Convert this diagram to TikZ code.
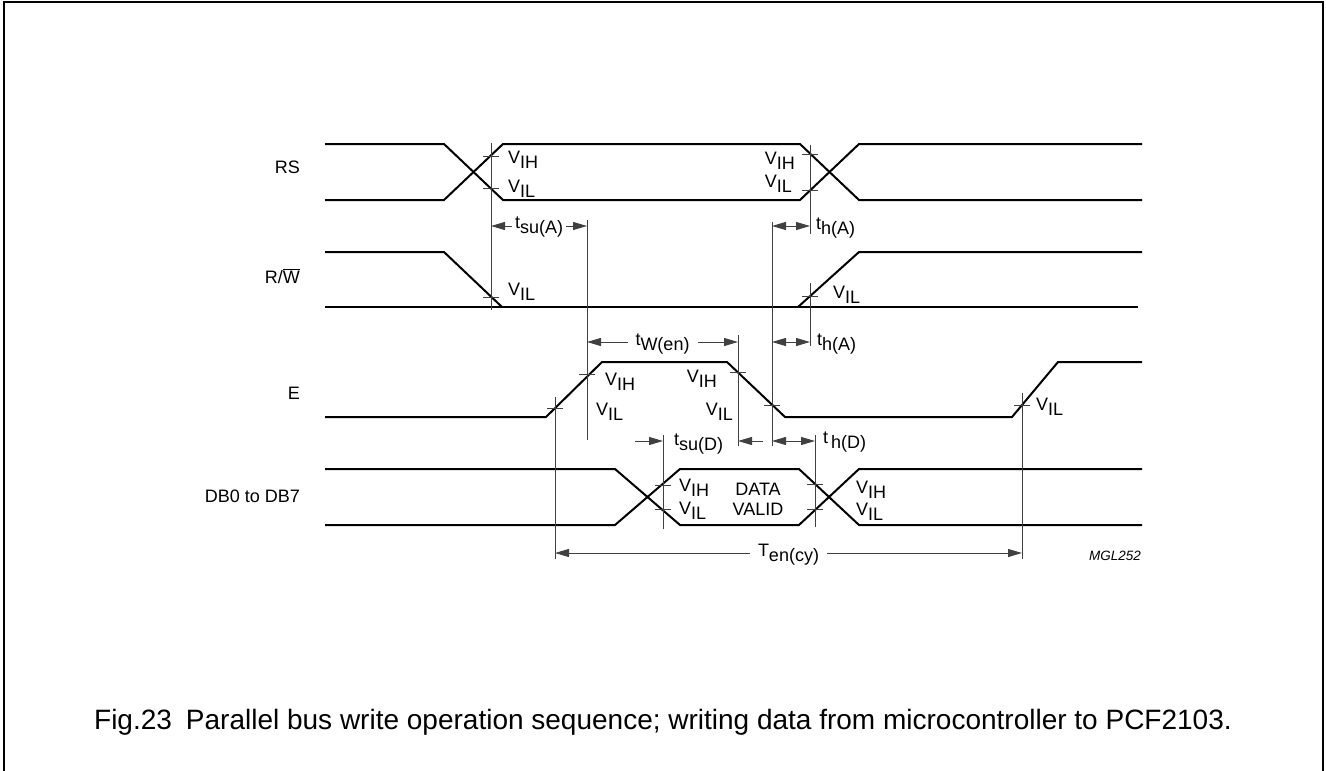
\documentclass[tikz,border=0pt]{standalone}
\usepackage{fontspec}
\setmainfont{Liberation Sans}
\providecommand{\tdStroke}{black}
\providecommand{\tdDim}{black!75}
\newcommand{\tdfont}{\fontsize{18}{20}\selectfont}
\newcommand{\lo}[1]{\raisebox{-5.5pt}{#1}}
\usetikzlibrary{arrows.meta}
\tikzset{
  >={Triangle[length=14pt,width=8pt]},
  wave/.style={draw=\tdStroke,line width=2pt,line join=round},
  dimline/.style={draw=\tdDim,line width=1pt},
  dimarr/.style={dimline,<->},
  vmark/.style={draw=\tdDim,line width=1pt},
  lbl/.style={font=\tdfont,inner sep=0pt},
  siglbl/.style={font=\tdfont,inner sep=0pt,anchor=base east},
  frame/.style={draw=\tdStroke,line width=2.5pt},
}

\begin{document}
\begin{tikzpicture}[x=1pt,y=-1pt]
\useasboundingbox (0,0) rectangle (1326,771);
\draw[frame] (4,771) -- (4,2) -- (1323,2) -- (1323,771);

% --- Signal names ----------------------------------------------------------

  \node[siglbl] (nRS) at (300,173) {RS};

  \node[siglbl] (nRW) at (300,283) {R/$\overline{\mbox{W}}$};

  \node[siglbl] (nE) at (300,399) {E};

  \node[siglbl] (nDB) at (300,502) {DB0 to DB7};

% --- Waveforms -------------------------------------------------------------

  \draw[wave] (325,144) -- (444,144) -- (503,200) -- (800,200) -- (859,144) -- (1142,144);
  \draw[wave] (325,200) -- (444,200) -- (503,144) -- (800,144) -- (859,200) -- (1142,200);

  \draw[wave] (325,252) -- (444,252) -- (502,307);
  \draw[wave] (325,307) -- (1138,307);
  \draw[wave] (798,307) -- (859,252) -- (1142,252);

  \draw[wave] (325,417) -- (546,417) -- (602,362) -- (727,362) -- (785,417) -- (1012,417) -- (1058,362) -- (1142,362);

  \draw[wave] (325,469) -- (615,469) -- (680,525) -- (799,525) -- (859,469) -- (1142,469);
  \draw[wave] (325,525) -- (615,525) -- (680,469) -- (799,469) -- (859,525) -- (1142,525);

% --- Reference lines and level marks ---------------------------------------

  \draw[dimline] (491,143) -- (491,310);
  \draw[dimline] (587,220) -- (587,440);
  \draw[dimline] (810,145) -- (810,234);
  \draw[dimline] (772,222) -- (772,446);
  \draw[dimline] (810,283) -- (810,346);
  \draw[dimline] (555,397) -- (555,559);
  \draw[dimline] (738,335) -- (738,446);
  \draw[dimline] (663,435) -- (663,529);
  \draw[dimline] (815,435) -- (815,527);
  \draw[dimline] (1022,393) -- (1022,559);

  \foreach \x/\y in {491/156,491/188,491/297,810/154,810/190,810/296,555/408,587/374,
                     738/372,772/405,1022/405,663/485,663/509,815/484,815/509}
    \draw[vmark] (\x-8,\y) -- (\x+8,\y);

% --- Level labels ----------------------------------------------------------

  \node[lbl,anchor=base west] (rsVIHl) at (508,163) {V\lo{IH}};
  \node[lbl,anchor=base west] (rsVILl) at (508,192) {V\lo{IL}};
  \node[lbl,anchor=base east] (rsVIHr) at (795,164) {V\lo{IH}};
  \node[lbl,anchor=base east] (rsVILr) at (792,187) {V\lo{IL}};

  \node[lbl,anchor=base west] (rwVILl) at (508,295) {V\lo{IL}};
  \node[lbl,anchor=base west] (rwVILr) at (833,298) {V\lo{IL}};

  \node[lbl,anchor=base west] (eVIHl) at (605,385) {V\lo{IH}};
  \node[lbl,anchor=base west] (eVILl) at (596,415) {V\lo{IL}};
  \node[lbl,anchor=base east] (eVIHr) at (717,382) {V\lo{IH}};
  \node[lbl,anchor=base east] (eVILr) at (733,415) {V\lo{IL}};
  \node[lbl,anchor=base west] (eVILx) at (1036,410) {V\lo{IL}};

  \node[lbl,anchor=base west] (dbVIHl) at (679,491) {V\lo{IH}};
  \node[lbl,anchor=base west] (dbVILl) at (679,514) {V\lo{IL}};
  \node[lbl,anchor=base] (dData) at (758,495) {DATA};
  \node[lbl,anchor=base] (dValid) at (758,515) {VALID};
  \node[lbl,anchor=base west] (dbVIHr) at (856,493) {V\lo{IH}};
  \node[lbl,anchor=base west] (dbVILr) at (856,515) {V\lo{IL}};

% --- Timing arrows ---------------------------------------------------------

  \coordinate (tsuA-l) at (491,226);
  \coordinate (tsuA-r) at (587,226);
  \draw[dimarr] (tsuA-l) -- (tsuA-r)
    node[lbl,midway,anchor=base,yshift=-2pt,fill=white,inner xsep=3pt] (tsuA) {t\lo{su(A)}};

  \coordinate (thA1-l) at (772,226);
  \coordinate (thA1-r) at (810,226);
  \draw[dimarr] (thA1-l) -- (thA1-r);
  \node[lbl,anchor=base west] (thA1) at (816,229) {t\lo{h(A)}};

  \coordinate (tWen-l) at (587,342);
  \coordinate (tWen-r) at (738,342);
  \draw[dimarr] (tWen-l) -- (tWen-r)
    node[lbl,midway,anchor=base,yshift=-3pt,fill=white,inner xsep=8pt] (tWen) {t\lo{W(en)}};

  \coordinate (thA2-l) at (772,342);
  \coordinate (thA2-r) at (810,342);
  \draw[dimarr] (thA2-l) -- (thA2-r);
  \node[lbl,anchor=base west] (thA2) at (817,345) {t\lo{h(A)}};

  \coordinate (tsuD-l) at (663,441);
  \coordinate (tsuD-r) at (738,441);
  \draw[dimline,->] ([xshift=-28pt]tsuD-l) -- (tsuD-l);
  \draw[dimline,->] ([xshift=25pt]tsuD-r) -- (tsuD-r);
  \node[lbl,anchor=base west] (tsuD) at (674,445) {t\lo{su(D)}};

  \coordinate (thD-l) at (772,441);
  \coordinate (thD-r) at (815,441);
  \draw[dimarr] (thD-l) -- (thD-r);
  \node[lbl,anchor=base west] (thD) at (823,443) {t\hspace{3pt}\lo{h(D)}};

  \coordinate (Tcy-l) at (555,553);
  \coordinate (Tcy-r) at (1022,553);
  \draw[dimarr] (Tcy-l) -- (Tcy-r)
    node[lbl,midway,anchor=base,yshift=-3pt,fill=white,inner xsep=8pt] (Tcy) {T\lo{en(cy)}};

% --- Figure code and caption -----------------------------------------------

  \node[font=\fontsize{13.5}{15}\selectfont\itshape,inner sep=0pt,anchor=base east] (code) at (1141,560) {MGL252};

  \node[font=\fontsize{28}{32}\selectfont,inner sep=0pt,anchor=base] (caption) at (663,729)
    {Fig.23\hspace{0.5em}Parallel bus write operation sequence; writing data from microcontroller to PCF2103.};

\end{tikzpicture}
\end{document}
